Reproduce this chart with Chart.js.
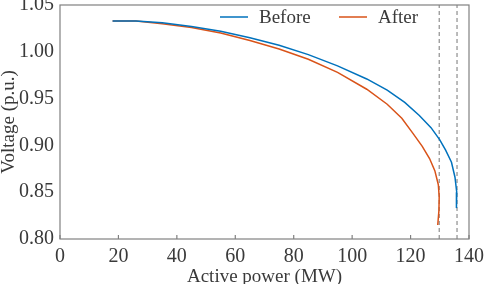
<!DOCTYPE html>
<html>
<head>
<meta charset="utf-8">
<script src="https://cdn.jsdelivr.net/npm/chart.js@4.4.1/dist/chart.umd.min.js"></script>
<style>
  html, body { margin: 0; padding: 0; background: #fff; }
  #wrap { width: 484px; height: 284px; }
</style>
</head>
<body>
<div id="wrap"><canvas id="pv"></canvas></div>
<script>
// P-V curves, active power (MW) vs voltage (p.u.)
const beforeP = [18, 26, 35, 45, 55, 65, 75, 85, 95, 105, 112, 118, 123, 127, 130, 132, 134, 135.2, 135.8, 135.7];
const beforeV = [1.033, 1.033, 1.031, 1.027, 1.022, 1.015, 1.007, 0.997, 0.985, 0.971, 0.959, 0.946, 0.932, 0.919, 0.906, 0.895, 0.882, 0.866, 0.850, 0.833];
const afterP = [18, 26, 35, 45, 55, 65, 75, 85, 95, 105, 112, 117, 121, 124, 126.5, 128.3, 129.5, 129.8, 129.7, 129.3];
const afterV = [1.033, 1.033, 1.030, 1.026, 1.020, 1.012, 1.003, 0.992, 0.978, 0.960, 0.944, 0.929, 0.912, 0.899, 0.886, 0.873, 0.858, 0.845, 0.830, 0.815];
const limitP = [129.8, 135.9]; // dashed max-loading markers
const xTicks = [0, 20, 40, 60, 80, 100, 120, 140];
const yTicks = [0.80, 0.85, 0.90, 0.95, 1.00, 1.05];

const FONT = "'Liberation Serif', 'Times New Roman', serif";
const TEXT = "#3a3a3a";
const FRAME = "#808080";

const toPoints = (xs, ys) => xs.map((x, i) => ({ x, y: ys[i] }));

const series = [
  { label: "Before", data: toPoints(beforeP, beforeV), color: "#0072BD" },
  { label: "After", data: toPoints(afterP, afterV), color: "#D95319" },
];

const datasets = series.map((s) => ({
  label: s.label,
  data: s.data,
  borderColor: s.color,
  backgroundColor: s.color,
  borderWidth: 1.5,
  pointRadius: 0,
  tension: 0,
}));

limitP.forEach((p) => {
  datasets.push({
    label: "limit",
    data: [{ x: p, y: yTicks[0] }, { x: p, y: yTicks[yTicks.length - 1] }],
    borderColor: "#777777",
    borderWidth: 1,
    borderDash: [4, 3],
    pointRadius: 0,
  });
});

// frame, inward x ticks and legend
const decor = {
  id: "decor",
  afterDatasetsDraw(chart) {
    const { ctx, chartArea: a, scales } = chart;
    ctx.save();
    ctx.strokeStyle = FRAME;
    ctx.lineWidth = 1.2;
    ctx.strokeRect(a.left, a.top, a.right - a.left, a.bottom - a.top);
    xTicks.forEach((t) => {
      const x = scales.x.getPixelForValue(t);
      ctx.beginPath();
      ctx.moveTo(x, a.bottom);
      ctx.lineTo(x, a.bottom - 4);
      ctx.stroke();
    });

    // legend
    const items = [
      { s: series[0], x: 220 },
      { s: series[1], x: 339 },
    ];
    ctx.font = "19px " + FONT;
    ctx.textBaseline = "middle";
    ctx.fillStyle = TEXT;
    items.forEach(({ s, x }) => {
      ctx.strokeStyle = s.color;
      ctx.lineWidth = 1.5;
      ctx.beginPath();
      ctx.moveTo(x, 17);
      ctx.lineTo(x + 28, 17);
      ctx.stroke();
      ctx.fillText(s.label, x + 39, 18);
    });
    ctx.restore();
  },
};

new Chart(document.getElementById("pv").getContext("2d"), {
  type: "line",
  data: { datasets },
  plugins: [decor],
  options: {
    responsive: true,
    maintainAspectRatio: false,
    animation: false,
    layout: { padding: { top: 5, right: 15, left: 0, bottom: 0 } },
    plugins: { legend: { display: false }, tooltip: { enabled: false } },
    scales: {
      x: {
        type: "linear",
        min: 0,
        max: 140,
        afterBuildTicks: (s) => { s.ticks = xTicks.map((v) => ({ value: v })); },
        grid: { display: false },
        border: { display: false },
        ticks: { color: TEXT, font: { family: FONT, size: 20 }, padding: -2, maxRotation: 0 },
        title: {
          display: true,
          text: "Active power (MW)",
          color: TEXT,
          font: { family: FONT, size: 19, lineHeight: 1 },
          padding: { top: 0, bottom: -3 },
        },
        afterFit: (s) => { s.height = 45; s.paddingLeft = 0; s.paddingRight = 0; },
      },
      y: {
        min: 0.8,
        max: 1.05,
        afterBuildTicks: (s) => { s.ticks = yTicks.map((v) => ({ value: v })); },
        grid: { display: false },
        border: { display: false },
        ticks: {
          color: TEXT,
          font: { family: FONT, size: 20 },
          padding: -2,
          callback: (v) => Number(v).toFixed(2),
        },
        title: {
          display: true,
          text: "Voltage (p.u.)",
          color: TEXT,
          font: { family: FONT, size: 19, lineHeight: 1 },
          padding: { top: 0, bottom: 0 },
        },
        afterFit: (s) => { s.width = 60; s.paddingTop = 0; s.paddingBottom = 0; },
      },
    },
  },
});
</script>
</body>
</html>
